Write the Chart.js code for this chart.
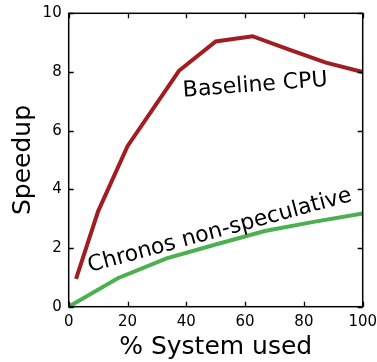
<!DOCTYPE html>
<html>
<head>
<meta charset="utf-8">
<script src="https://cdn.jsdelivr.net/npm/chart.js@4/dist/chart.umd.min.js"></script>
<style>
  html, body { margin: 0; padding: 0; background: #fff; }
  #wrap { width: 377px; height: 362px; }
</style>
</head>
<body>
<div id="wrap"><canvas id="speedupChart" width="377" height="362"></canvas></div>
<script>
// data
const baselineX = [2.5, 10, 20, 37.5, 50, 62.5, 75, 87.5, 100];
const baselineY = [0.95, 3.25, 5.47, 8.04, 9.04, 9.22, 8.76, 8.32, 8.0];
const chronosX = [0, 16.7, 33.3, 50, 66.7, 83.3, 100];
const chronosY = [0, 0.97, 1.65, 2.12, 2.58, 2.89, 3.18];
const xTicks = [0, 20, 40, 60, 80, 100];
const yTicks = [0, 2, 4, 6, 8, 10];

const FONT = "'DejaVu Sans', sans-serif";

function pts(xs, ys) {
  return xs.map((x, i) => ({x: x, y: ys[i]}));
}

// frame + inward ticks on all four sides, like matplotlib
const frameTicks = {
  id: 'frameTicks',
  afterDraw(chart) {
    const {ctx, chartArea: a, scales} = chart;
    const len = 5;
    ctx.save();
    ctx.strokeStyle = '#000';
    ctx.lineWidth = 1.3;
    ctx.beginPath();
    xTicks.forEach(v => {
      const px = Math.round(scales.x.getPixelForValue(v)) + 0.5;
      ctx.moveTo(px, a.bottom); ctx.lineTo(px, a.bottom - len);
      ctx.moveTo(px, a.top); ctx.lineTo(px, a.top + len);
    });
    yTicks.forEach(v => {
      const py = Math.round(scales.y.getPixelForValue(v)) + 0.5;
      ctx.moveTo(a.left, py); ctx.lineTo(a.left + len, py);
      ctx.moveTo(a.right, py); ctx.lineTo(a.right - len, py);
    });
    ctx.stroke();
    ctx.lineWidth = 1.5;
    ctx.strokeRect(a.left, a.top, a.right - a.left, a.bottom - a.top);
    ctx.restore();
  }
};

// rotated in-plot labels
const lineLabels = {
  id: 'lineLabels',
  afterDatasetsDraw(chart) {
    const {ctx, scales} = chart;
    const items = [
      {text: 'Baseline CPU', x: 39, y: 7.16, angle: -4.3},
      {text: 'Chronos non-speculative', x: 7.2, y: 1.18, angle: -15.2}
    ];
    ctx.save();
    ctx.fillStyle = '#000';
    ctx.font = '22px ' + FONT;
    ctx.textAlign = 'left';
    ctx.textBaseline = 'alphabetic';
    items.forEach(it => {
      ctx.save();
      ctx.translate(scales.x.getPixelForValue(it.x), scales.y.getPixelForValue(it.y));
      ctx.rotate(it.angle * Math.PI / 180);
      ctx.fillText(it.text, 0, 0);
      ctx.restore();
    });
    ctx.restore();
  }
};

document.addEventListener('DOMContentLoaded', () => {
  const el = document.getElementById('speedupChart');
  new Chart(el, {
    type: 'line',
    data: {
      datasets: [{
        label: 'Baseline CPU',
        data: pts(baselineX, baselineY),
        borderColor: '#a11d21',
        borderWidth: 4,
        pointRadius: 0,
        tension: 0,
        fill: false
      }, {
        label: 'Chronos non-speculative',
        data: pts(chronosX, chronosY),
        borderColor: '#4cb050',
        borderWidth: 4,
        pointRadius: 0,
        tension: 0,
        fill: false
      }]
    },
    options: {
      responsive: false,
      animation: false,
      layout: {padding: {top: 13.3, right: 14.3, left: 0, bottom: 0}},
      plugins: {legend: {display: false}, tooltip: {enabled: false}},
      scales: {
        x: {
          type: 'linear', min: 0, max: 100,
          afterBuildTicks: s => { s.ticks = xTicks.map(v => ({value: v})); },
          afterFit: s => { s.height = 55.3; s.paddingLeft = 0; s.paddingRight = 0; },
          grid: {display: false, drawTicks: false},
          border: {display: false},
          ticks: {color: '#000', font: {family: FONT, size: 15}, padding: 6, maxRotation: 0},
          title: {display: true, text: '% System used', color: '#000',
                  font: {family: FONT, size: 25}, padding: {top: 0, bottom: 0}}
        },
        y: {
          type: 'linear', min: 0, max: 10,
          afterBuildTicks: s => { s.ticks = yTicks.map(v => ({value: v})); },
          afterFit: s => { s.width = 68.7; s.paddingTop = 0; s.paddingBottom = 0; },
          grid: {display: false, drawTicks: false},
          border: {display: false},
          ticks: {color: '#000', font: {family: FONT, size: 15}, padding: 7},
          title: {display: true, text: 'Speedup', color: '#000',
                  font: {family: FONT, size: 25}, padding: {top: 8, bottom: 0}}
        }
      }
    },
    plugins: [frameTicks, lineLabels]
  });
});
</script>
</body>
</html>
